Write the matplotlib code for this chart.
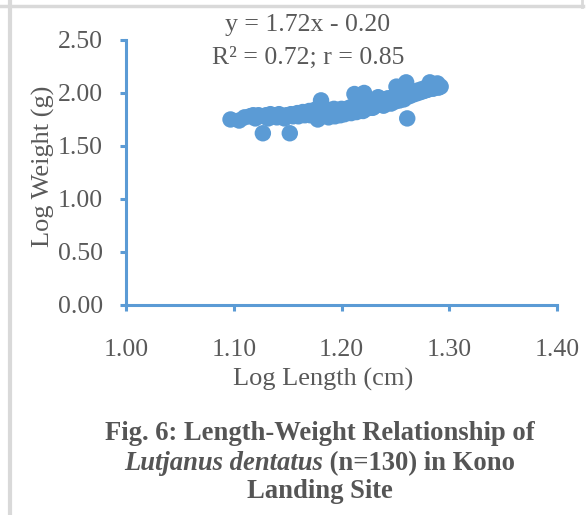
import matplotlib
matplotlib.use("Agg")
import matplotlib.pyplot as plt
from matplotlib.lines import Line2D

# Log length (cm) and log weight (g)
log_length = [
    1.097, 1.105, 1.110, 1.115, 1.118, 1.120, 1.123, 1.127, 1.128, 1.130,
    1.132, 1.134, 1.136, 1.138, 1.140, 1.142, 1.145, 1.147, 1.149, 1.152,
    1.153, 1.155, 1.157, 1.159, 1.160, 1.162, 1.164, 1.166, 1.168, 1.170,
    1.171, 1.173, 1.175, 1.176, 1.178, 1.180, 1.181, 1.182, 1.184, 1.185,
    1.187, 1.188, 1.190, 1.191, 1.193, 1.194, 1.196, 1.197, 1.199, 1.200,
    1.201, 1.203, 1.204, 1.206, 1.207, 1.209, 1.210, 1.211, 1.212, 1.213,
    1.214, 1.216, 1.217, 1.218, 1.219, 1.220, 1.221, 1.222, 1.223, 1.224,
    1.225, 1.226, 1.227, 1.228, 1.229, 1.230, 1.231, 1.232, 1.233, 1.234,
    1.235, 1.236, 1.237, 1.238, 1.239, 1.240, 1.241, 1.242, 1.243, 1.244,
    1.245, 1.246, 1.247, 1.248, 1.249, 1.250, 1.251, 1.252, 1.253, 1.254,
    1.255, 1.256, 1.257, 1.258, 1.260, 1.260, 1.261, 1.261, 1.263, 1.264,
    1.265, 1.267, 1.268, 1.270, 1.271, 1.273, 1.274, 1.276, 1.277, 1.279,
    1.280, 1.282, 1.283, 1.284, 1.285, 1.287, 1.288, 1.289, 1.290, 1.292,
]
log_weight = [
    1.75, 1.74, 1.77, 1.78, 1.79, 1.76, 1.79, 1.62, 1.78, 1.79,
    1.76, 1.80, 1.78, 1.79, 1.77, 1.80, 1.78, 1.76, 1.79, 1.62,
    1.80, 1.78, 1.79, 1.81, 1.78, 1.80, 1.82, 1.79, 1.81, 1.83,
    1.79, 1.81, 1.84, 1.80, 1.75, 1.82, 1.93, 1.78, 1.84, 1.80,
    1.82, 1.77, 1.84, 1.80, 1.85, 1.78, 1.82, 1.84, 1.79, 1.85,
    1.82, 1.80, 1.84, 1.82, 1.86, 1.81, 1.87, 1.83, 1.99, 1.85,
    1.82, 1.88, 1.84, 1.86, 1.90, 1.83, 2.00, 1.87, 1.85, 1.89,
    1.92, 1.86, 1.88, 1.91, 1.86, 1.89, 1.93, 1.88, 1.91, 1.96,
    1.89, 1.92, 1.90, 1.94, 1.88, 1.91, 1.94, 1.90, 1.95, 1.91,
    1.94, 1.90, 1.95, 1.92, 1.97, 1.92, 2.06, 1.95, 1.98, 1.93,
    2.00, 1.96, 1.99, 1.94, 2.10, 1.97, 2.01, 1.76, 1.97, 2.00,
    1.98, 2.01, 1.99, 2.02, 2.00, 2.03, 2.01, 2.04, 2.02, 2.05,
    2.03, 2.10, 2.05, 2.07, 2.04, 2.08, 2.06, 2.09, 2.05, 2.06,
]

x_ticks = [1.00, 1.10, 1.20, 1.30, 1.40]
y_ticks = [0.00, 0.50, 1.00, 1.50, 2.00, 2.50]
equation = "y = 1.72x - 0.20"
stats = "R² = 0.72; r = 0.85"

blue = "#5B9BD5"
grey_text = "#595959"
serif = "Liberation Serif"

fig = plt.figure(figsize=(5.88, 5.15), dpi=100)
ax = fig.add_axes([0.2143, 0.4078, 0.733, 0.5146])

ax.scatter(log_length, log_weight, s=140, color=blue, edgecolors="none", zorder=3)

ax.set_xlim(1.0, 1.4)
ax.set_ylim(0.0, 2.5)
ax.set_xticks(x_ticks)
ax.set_yticks(y_ticks)
ax.set_xticklabels([f"{v:.2f}" for v in x_ticks])
ax.set_yticklabels([f"{v:.2f}" for v in y_ticks])

for side in ["top", "right"]:
    ax.spines[side].set_visible(False)
for side in ["left", "bottom"]:
    ax.spines[side].set_color(blue)
    ax.spines[side].set_linewidth(2.2)
ax.tick_params(axis="both", direction="out", length=4.5, width=2.2, color=blue,
               labelsize=18.5, labelcolor=grey_text)
ax.tick_params(axis="x", pad=20)
ax.tick_params(axis="y", pad=12)
for lab in ax.get_xticklabels() + ax.get_yticklabels():
    lab.set_fontfamily(serif)

ax.set_xlabel("Log Length (cm)", fontsize=19, color=grey_text, family=serif)
ax.set_ylabel("Log Weight (g)", fontsize=19, color=grey_text, family=serif)
ax.xaxis.set_label_coords(0.457, -0.236)
ax.yaxis.set_label_coords(-0.165, 0.525)

# trendline equation
fig.text(308 / 588, 1 - 25 / 515, equation, ha="center", va="center",
         fontsize=18.5, color=grey_text, family=serif)
fig.text(308 / 588, 1 - 58 / 515, stats, ha="center", va="center",
         fontsize=18.5, color=grey_text, family=serif)

# caption
cap_color = "#555555"
cap_size = 19.2
cx = 320 / 588
fig.text(cx, 1 - 440 / 515, "Fig. 6: Length-Weight Relationship of", ha="center", va="baseline",
         fontsize=cap_size, weight="bold", color=cap_color, family=serif)
fig.text(cx, 1 - 498 / 515, "Landing Site", ha="center", va="baseline",
         fontsize=cap_size, weight="bold", color=cap_color, family=serif)

# second caption line mixes italic and upright bold text
renderer = fig.canvas.get_renderer()
part1 = fig.text(0, 1 - 470 / 515, "Lutjanus dentatus", ha="left", va="baseline",
                 fontsize=cap_size, weight="bold", style="italic", color=cap_color, family=serif)
part2 = fig.text(0, 1 - 470 / 515, " (n=130) in Kono", ha="left", va="baseline",
                 fontsize=cap_size, weight="bold", color=cap_color, family=serif)
w1 = part1.get_window_extent(renderer).width / fig.bbox.width
w2 = part2.get_window_extent(renderer).width / fig.bbox.width
start = cx - (w1 + w2) / 2
part1.set_x(start)
part2.set_x(start + w1)

# page border lines
border = "#D9D9D9"
fig.add_artist(Line2D([0, 583 / 588], [1 - 5.5 / 515, 1 - 5.5 / 515], transform=fig.transFigure,
                      color=border, linewidth=2.5))
fig.add_artist(Line2D([10 / 588, 10 / 588], [0, 1], transform=fig.transFigure,
                      color=border, linewidth=3))
fig.add_artist(Line2D([582 / 588, 582 / 588], [1 - 7 / 515, 1], transform=fig.transFigure,
                      color=border, linewidth=2))

fig.savefig("out.png", dpi=100)
